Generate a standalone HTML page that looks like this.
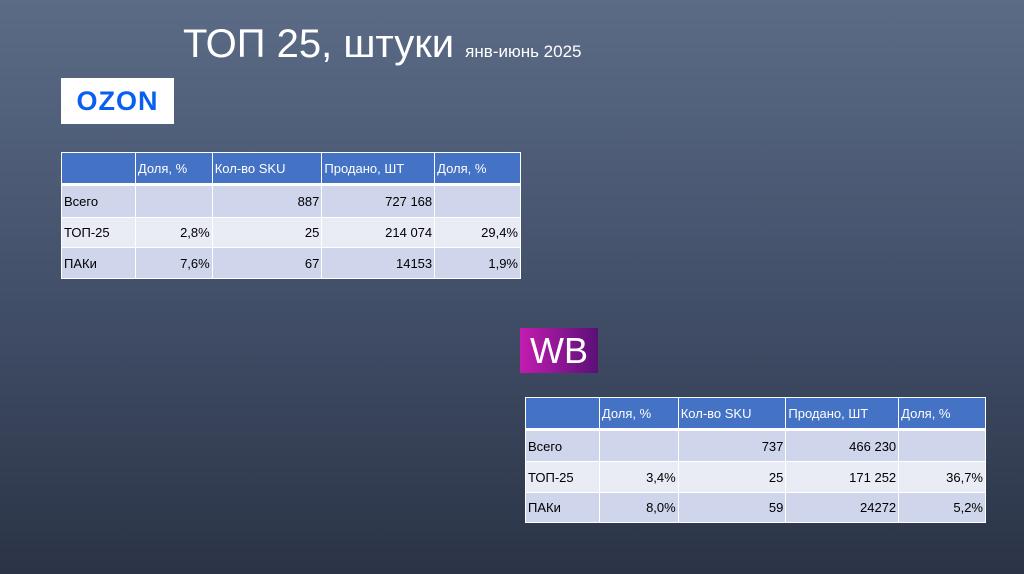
<!DOCTYPE html>
<html><head><meta charset="utf-8"><style>
body{margin:0;width:1024px;height:574px;overflow:hidden;background:linear-gradient(#5b6b86,#43506a 50%,#2b3446);font-family:"Liberation Sans","DejaVu Sans",sans-serif;position:relative}
.t{position:absolute;left:183px;top:22px;color:#fff;font-size:40px;white-space:nowrap}
.t span{font-size:17px}
.oz{position:absolute;left:61px;top:78px;width:113px;height:46px;background:#fff;color:#0a5ff0;font-weight:bold;font-size:27px;text-align:center;line-height:46px;letter-spacing:1px}
.wb{position:absolute;left:520px;top:328px;width:78px;height:45px;background:linear-gradient(90deg,#c31cb0,#5a1077);color:#fff;font-size:36px;line-height:46px;text-align:center}
table{position:absolute;border-collapse:collapse;font-size:13px;color:#000}
td{border:1px solid #fff;padding:0 2px;text-align:right}
tr:first-child td{border-bottom:3px solid #fff}
td:first-child{text-align:left}
tr.h td{background:#4472c4;color:#fff;text-align:left}
tr.a td{background:#cfd5ea}
tr.b td{background:#e9ebf5}
</style></head><body>
<div class="t">ТОП 25, штуки <span>янв-июнь 2025</span></div>
<div class="oz">OZON</div>
<table style="left:61px;top:152px;width:460px;height:127px">
<colgroup><col style="width:74px"><col style="width:77px"><col style="width:110px"><col style="width:113px"><col style="width:86px"></colgroup>
<tr class="h"><td></td><td>Доля, %</td><td>Кол-во SKU</td><td>Продано, ШТ</td><td>Доля, %</td></tr>
<tr class="a"><td>Всего</td><td></td><td>887</td><td>727 168</td><td></td></tr>
<tr class="b"><td>ТОП-25</td><td>2,8%</td><td>25</td><td>214 074</td><td>29,4%</td></tr>
<tr class="a"><td>ПАКи</td><td>7,6%</td><td>67</td><td>14153</td><td>1,9%</td></tr>
</table>
<div class="wb">WB</div>
<table style="left:525px;top:397px;width:461px;height:126px">
<colgroup><col style="width:74px"><col style="width:79px"><col style="width:108px"><col style="width:113px"><col style="width:87px"></colgroup>
<tr class="h"><td></td><td>Доля, %</td><td>Кол-во SKU</td><td>Продано, ШТ</td><td>Доля, %</td></tr>
<tr class="a"><td>Всего</td><td></td><td>737</td><td>466 230</td><td></td></tr>
<tr class="b"><td>ТОП-25</td><td>3,4%</td><td>25</td><td>171 252</td><td>36,7%</td></tr>
<tr class="a"><td>ПАКи</td><td>8,0%</td><td>59</td><td>24272</td><td>5,2%</td></tr>
</table>
</body></html>
